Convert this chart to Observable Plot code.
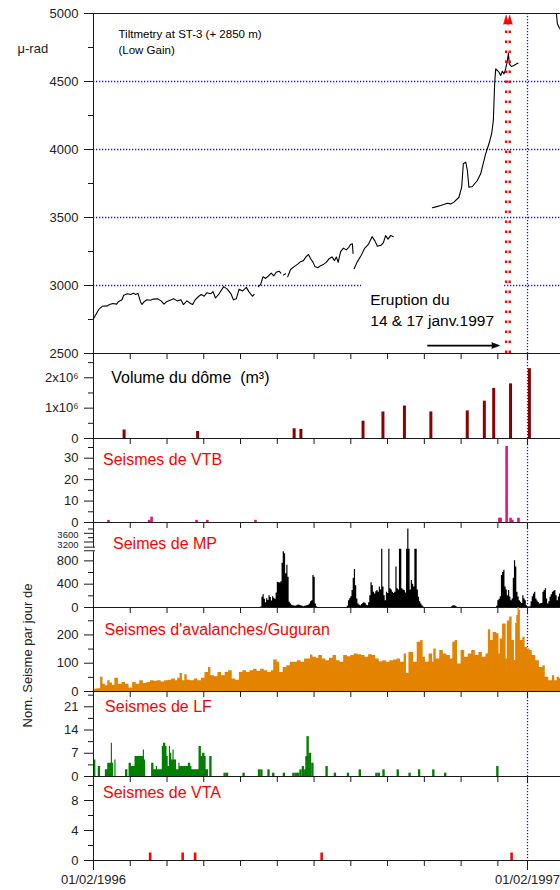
<!DOCTYPE html>
<html>
<head>
<meta charset="utf-8">
<script src="https://cdn.jsdelivr.net/npm/d3@7"></script>
<script src="https://cdn.jsdelivr.net/npm/@observablehq/plot@0.6"></script>
<style>
  html, body { margin: 0; padding: 0; background: #fff; }
  #chart { position: relative; width: 560px; height: 890px; overflow: hidden; background: #fff; }
  #chart svg { position: absolute; left: 0; }
</style>
</head>
<body>
<div id="chart"></div>
<script>
// ---------- x axis (days since 01/02/1996) ----------
const X_MAX = 393.83;
const X_TICKS = [0, 31, 62, 93, 124, 155, 186, 217, 248, 279, 310, 341, 366];
const X_LABEL_DAYS = [0, 366];
const X_LABELS = ["01/02/1996", "01/02/1997"];
const JAN97 = 366;
const ERUPTION_DAYS = [348, 351];

// ---------- tiltmetry (day, µrad) ----------
const tiltSeg1 = [[0,2755],[4.4,2824],[7.4,2847],[11.9,2850],[13.4,2860],[16.5,2868],[19.5,2863],[21,2881],[24,2895],[25.5,2929],[28.5,2939],[31.5,2934],[33.6,2944],[35.4,2934],[37.5,2942],[39.6,2881],[40.9,2860],[42.7,2881],[45,2895],[48,2892],[50.5,2900],[54,2902],[57,2887],[59.5,2863],[61.6,2881],[64.6,2892],[67.6,2902],[70.7,2887],[73.7,2895],[75.8,2860],[78.8,2887],[81.8,2868],[83.6,2860],[85.7,2895],[88.8,2921],[90.9,2934],[93.3,2921],[95.7,2947],[98.7,2939],[100.8,2955],[102.9,2908],[105.9,2939],[109.8,2992],[112.8,2973],[115.9,2939],[118,2895],[120.4,2902],[122.8,2973],[125.8,2960],[128.9,2986],[131,2955],[134,2921],[135.5,2934]];
const tiltSeg2 = [[139,2992],[140.9,3007],[143,3065],[145.1,3052],[147.5,3070],[149.9,3091],[152,3070],[154.1,3097],[156.5,3105],[158,3091]];
const tiltSeg3 = [[160.2,3078],[162,3086]];
const tiltSeg4 = [[163.8,3065],[166.2,3118],[168,3131],[170.1,3144],[172.2,3157],[174.6,3175],[177,3183],[179.2,3210],[181.3,3228],[183.1,3197],[185.2,3170],[186.7,3139],[189.1,3131],[191.2,3144],[194.2,3157],[196.3,3170],[198.7,3197],[201.1,3210],[203.3,3183],[204.8,3210],[206.3,3170],[208.4,3249],[210.8,3275],[213.2,3262],[215.3,3281],[216.8,3302],[218.3,3307],[218.9,3236]];
const tiltSeg5 = [[219.8,3123],[222.2,3170],[225.8,3223],[228.8,3275],[231.8,3302],[234.9,3359],[237.3,3328],[239.4,3288],[242.4,3296],[244.5,3315],[246.3,3367],[248.4,3341],[250.5,3367],[252.9,3359]];
const tiltSeg6 = [[285.8,3571],[289.4,3580],[292.8,3588],[295.3,3595],[298.4,3605],[301.2,3600],[304,3613],[308.2,3649],[310.5,3723],[311.9,3895],[313.9,3907],[315.3,3846],[316.6,3723],[319.5,3728],[323.7,3772],[326.5,3821],[330.7,3968],[333.5,4042],[335.8,4116],[337.2,4213],[338.3,4483],[339.2,4593],[340.6,4581],[341.9,4568],[343.4,4544],[344.8,4576],[346.2,4556],[347.6,4593],[349,4654],[349.9,4708],[350.7,4630],[352.4,4610],[354.6,4618],[356.9,4630],[358,4635]];
const tiltSeg7 = [[389.5,5000],[390.4,4998],[391.2,4924],[392.6,4899],[394,4880]];
const TILT_MAJOR = [2500, 3000, 3500, 4000, 4500, 5000];
const TILT_MINOR = [2750, 3250, 3750, 4250, 4750];
const TILT_GRID = [3000, 3500, 4000, 4500];

// ---------- dome volume (day, ×10^6 m3) ----------
const volDays = [25.8, 87.8, 169.2, 174.9, 227.3, 244.1, 262.2, 284.5, 315.2, 329.6, 337.5, 351.7, 367.6];
const volVals = [0.28, 0.23, 0.32, 0.30, 0.57, 0.875, 1.07, 0.875, 0.91, 1.23, 1.65, 1.8, 2.3];

// ---------- VTB ----------
const vtbDays = [12.6, 46.9, 49, 86.9, 96, 136.6, 342.3, 343.3, 348.4, 351.7, 353.2, 358.4];
const vtbVals = [1, 1, 2.5, 1, 1, 1, 2, 2, 35.5, 2, 1, 2];

// ---------- MP (daily runs; 1000 = off-scale, drawn at the break) ----------
const mpStartA = 141;
const mpValsA = [10,175,220,140,80,150,120,200,170,110,185,160,140,250,435,425,420,440,760,957,920,580,725,520,90,60,40,30,25,20,30,40,45,35,25,20,15,20,25,30,40,60,100,115,550,520,60,15];
const mpStartB = 214;
const mpValsB = [20,115,150,185,290,500,650,375,145,60,40,30,50,70,85,70,40,30,80,200,423,375,260,230,270,290,260,350,300,1000,350,200,115,260,240,1000,320,300,260,240,260,695,320,300,1000,1000,320,300,290,250,1000,3800,1000,300,465,400,350,1000,1000,300,175,100,58,30,10];
const mpStartC = 302;
const mpValsC = [15, 28, 30, 20, 10];
const mpStartD = 340;
const mpValsD = [20,115,140,185,550,600,640,350,300,200,290,180,115,145,500,800,695,260,180,115,90,70,200,150,115,30,5,10,15,100,185,230,260,145,110,85,58,65,70,260,290,320,145,58,100,175,220,260,280,290,200,115,180,230,230];
const MP_LOWER_TICKS = [0, 400, 800];
const MP_UPPER_TICKS = [3200, 3600];
const MP_MINOR = [200, 600, 3400, 3800];
const MP_BREAK = 1000, MP_UPPER_START = 2870, MP_UPPER_RATIO = 0.373;

// ---------- avalanches / guguran (day, count) ----------
const avalSamples = [[0,8],[3,10],[6,50],[8,26],[10,20],[12,38],[14,30],[16,22],[18,47],[21,26],[24,32],[27,26],[30,12],[33,32],[36,26],[39,38],[42,28],[45,32],[48,38],[51,36],[54,38],[57,34],[60,38],[63,40],[66,44],[69,38],[71,47],[73,64],[75,38],[77,59],[79,40],[82,38],[85,44],[88,38],[91,47],[94,67],[97,85],[99,56],[102,52],[105,67],[108,56],[111,67],[114,73],[117,44],[120,40],[123,67],[126,73],[129,67],[132,73],[135,79],[138,71],[141,79],[144,73],[147,67],[150,73],[152,111],[155,103],[157,67],[160,85],[163,91],[166,103],[169,103],[172,109],[175,103],[178,115],[181,115],[183,129],[185,121],[188,118],[190,127],[193,115],[196,109],[199,118],[202,127],[205,109],[208,103],[211,127],[214,123],[217,127],[220,133],[223,130],[226,127],[229,121],[232,130],[235,127],[238,115],[241,105],[244,109],[247,103],[250,109],[253,111],[256,115],[259,103],[262,133],[264,64],[266,138],[270,103],[273,174],[276,180],[278,121],[280,103],[283,133],[286,103],[287,150],[289,115],[292,145],[295,133],[298,127],[301,115],[303,174],[305,180],[307,97],[310,145],[313,121],[316,133],[319,145],[322,127],[325,138],[328,121],[331,133],[333,218],[335,180],[337,209],[340,204],[342,133],[343,186],[345,239],[348,115],[349,249],[351,263],[353,180],[355,110],[356,240],[357,269],[358,300],[359,287],[360,180],[362,192],[364,156],[366,150],[368,145],[370,127],[373,109],[376,85],[379,91],[381,50],[384,38],[387,56],[389,38],[391,50],[393,45],[395,45]];

// ---------- LF ----------
const lfDense = [5,5,0,0,3,3,0,0,0,0,2,2,4,4,4,10,4,0,5,0, 0,0,0,0,0,0,0,2,2,0, 4,4,3,3,3,6,6,6,6,6, 6,6,8,5,0,0,0,0,0,4, 4,2,2,3,2,2,2,2,9,10, 10,9,6,3,9,7,5,8,5,5, 2,2,4,3,3,3,3,3,3,3, 4,4,3,2,2,2,2,2,2,9, 9,6,7,7,6,2,2,0,6,6, 0];
const lfSparseDays = [110,112,126,139,141,147,151,160,168,170,172,174,176,178,179,180,181,182,184,196,203,214,224,238,240,244,256,266,274,286,296,340];
const lfSparseVals = [1,1,1,2,2,2,1,1,1,1,1,2,3,2,6,12,6,7,4,3,1,1,2,1,1,2,2,1,2,2,1,3];

// ---------- VTA ----------
const vtaDays = [47.8, 75.2, 85.7, 192.4, 352.6];
const vtaVals = [1, 1, 1, 1, 1];

// ---------- styling ----------
const FONT = "'Liberation Sans', Arial, Helvetica, sans-serif";
const INK = "#1a1a1a";
const BLUE = "#1010ff";
const DOTS = "1.3,1.7";
const RED = "#ff0000";
const chart = document.getElementById("chart");

function mpDisp(v) {
  return v <= MP_BREAK ? v : Math.max(MP_BREAK, MP_BREAK + (v - MP_UPPER_START) * MP_UPPER_RATIO);
}
function dailyFromRuns(runs) {
  const out = [];
  for (let d = 0; d <= Math.ceil(X_MAX) + 1; d++) out.push({d, v: 0});
  for (const [start, vals] of runs) vals.forEach((v, i) => { if (start + i < out.length) out[start + i].v = v; });
  return out;
}

function yAxis(major, fmt, minor, size = 13) {
  return [
    Plot.ruleX([0], {stroke: INK}),
    Plot.axisY(major, {tickSize: 9, tickPadding: 6, tickFormat: fmt, fontSize: size, label: null, stroke: INK, fill: "#222"}),
    Plot.axisY(minor, {tickSize: 5, tickFormat: () => "", label: null, stroke: INK})
  ];
}
function xAxis(y0, ticks = X_TICKS) {
  return [
    Plot.axisX(ticks, {tickSize: 6, tickFormat: () => "", label: null, stroke: INK}),
    Plot.ruleY([y0], {stroke: INK, strokeWidth: 1.2})
  ];
}
function janLine() {
  return Plot.ruleX([JAN97], {stroke: BLUE, strokeDasharray: DOTS, strokeWidth: 1.3});
}
function title(text, dx, dy, fill = RED, size = 16) {
  return Plot.text([text], {text: d => d, frameAnchor: "top-left", dx, dy, textAnchor: "start", lineAnchor: "middle", fill, fontSize: size});
}

function panel({top, bottom, yDomain, marks, mt = 14, mb = 14}) {
  const h = bottom - top;
  const svg = Plot.plot({
    width: 560,
    height: h + mt + mb,
    marginLeft: 93, marginRight: 0, marginTop: mt, marginBottom: mb,
    x: {domain: [0, X_MAX], label: null},
    y: {domain: yDomain, label: null},
    style: `background:transparent;overflow:visible;font-family:${FONT};font-size:13px;color:${INK};`,
    marks
  });
  svg.style.position = "absolute";
  svg.style.top = (top - mt) + "px";
  svg.style.left = "0px";
  chart.appendChild(svg);
}

// ---------- panel 1: tiltmetry ----------
const tiltRows = [tiltSeg1, tiltSeg2, tiltSeg3, tiltSeg4, tiltSeg5, tiltSeg6, tiltSeg7]
  .flatMap((s, i) => s.map(([d, v]) => ({d, v, seg: i})));
const eruptionBox = [{x1: 226, x2: 345.5, y1: 2510, y2: 3035}];
const eruptionArrow = [{x1: 281.5, x2: 342.6, y: 2558}];

panel({
  top: 13, bottom: 353, yDomain: [2500, 5000],
  marks: [
    Plot.ruleY(TILT_GRID, {stroke: BLUE, strokeDasharray: DOTS, strokeWidth: 1.3}),
    janLine(),
    Plot.rect(eruptionBox, {x1: "x1", x2: "x2", y1: "y1", y2: "y2", fill: "white"}),
    ...yAxis(TILT_MAJOR, d => String(d), TILT_MINOR),
    ...xAxis(2500),
    Plot.ruleY([5000], {stroke: INK, strokeWidth: 1.2}),
    Plot.line(tiltRows, {x: "d", y: "v", z: "seg", stroke: "black", strokeWidth: 1.1, clip: true}),
    Plot.ruleX(ERUPTION_DAYS, {y1: 2500, y2: 4921, stroke: RED, strokeWidth: 2.4, strokeDasharray: "2.5,7.5"}),
    Plot.vector(ERUPTION_DAYS, {x: d => d, y: 4921, length: 9, shape: "spike", r: 2.6, anchor: "start", fill: RED, stroke: RED, strokeWidth: 0.6}),
    Plot.link(eruptionArrow, {x1: "x1", x2: d => d.x2 - 4, y1: "y", y2: "y", stroke: "black", strokeWidth: 1.6}),
    Plot.vector(eruptionArrow, {x: "x2", y: "y", rotate: 90, length: 8, shape: "spike", r: 3, anchor: "end", fill: "black", stroke: "black", strokeWidth: 0.5}),
    Plot.text(["Eruption du\n14 & 17 janv.1997"], {text: d => d, x: 233.4, y: 2831, textAnchor: "start", lineAnchor: "middle", lineHeight: 1.38, fontSize: 15.5, fill: "black"}),
    Plot.text(["Tiltmetry at ST-3 (+ 2850 m)\n(Low Gain)"], {text: d => d, frameAnchor: "top-left", dx: 25, dy: 27.7, textAnchor: "start", lineAnchor: "middle", lineHeight: 1.39, fontSize: 11.5, fill: "black"}),
    Plot.text(["μ-rad"], {text: d => d, frameAnchor: "top-left", dx: -76, dy: 35.7, textAnchor: "start", lineAnchor: "middle", fontSize: 13, fill: "#222"})
  ]
});

// ---------- panel 2: dome volume ----------
const volRows = volDays.map((d, i) => ({d, v: volVals[i]}));
panel({
  top: 353, bottom: 438, yDomain: [0, 2.8],
  marks: [
    janLine(),
    ...yAxis([0, 1, 2], v => v === 0 ? "0" : v + "x10⁶", [0.5, 1.5, 2.5]),
    ...xAxis(0),
    Plot.ruleX(volRows, {x: "d", y1: 0, y2: "v", stroke: "#8b0000", strokeWidth: 3}),
    title("Volume du dôme\u00a0\u00a0(m³)", 17.7, 24, "black", 16)
  ]
});

// ---------- panel 3: VTB ----------
const vtbRows = vtbDays.map((d, i) => ({d, v: vtbVals[i]}));
panel({
  top: 438, bottom: 522, yDomain: [0, 39.2],
  marks: [
    janLine(),
    ...yAxis([0, 10, 20, 30], d => String(d), [5, 15, 25, 35]),
    ...xAxis(0),
    Plot.ruleX(vtbRows, {x: "d", y1: 0, y2: "v", stroke: "#e0167e", strokeWidth: 2.6}),
    title("Seismes de VTB", 9.5, 21.5)
  ]
});

// ---------- panel 4: MP (broken axis) ----------
const mpRows = dailyFromRuns([[mpStartA, mpValsA], [mpStartB, mpValsB], [mpStartC, mpValsC], [mpStartD, mpValsD]])
  .map(r => ({d: r.d, v: mpDisp(r.v)}));
const mpUpperShift = [3, 2];   // small downward nudges so the cramped labels do not collide
panel({
  top: 522, bottom: 607, yDomain: [0, 1458],
  marks: [
    janLine(),
    Plot.areaY(mpRows, {x: "d", y: "v", curve: "step-after", fill: "black", clip: true}),
    Plot.ruleX([0], {stroke: INK}),
    Plot.axisY(MP_LOWER_TICKS, {tickSize: 9, tickPadding: 6, tickFormat: d => String(d), fontSize: 13, label: null, stroke: INK, fill: "#222"}),
    Plot.axisY(MP_UPPER_TICKS.map(mpDisp), {tickSize: 9, tickPadding: 6, tickFormat: () => "", label: null, stroke: INK}),
    Plot.text([MP_UPPER_TICKS[0]], {text: d => String(d), x: 0, y: mpDisp, dx: -15, dy: mpUpperShift[0], textAnchor: "end", lineAnchor: "middle", fontSize: 9.5, fill: "#222"}),
    Plot.text([MP_UPPER_TICKS[1]], {text: d => String(d), x: 0, y: mpDisp, dx: -15, dy: mpUpperShift[1], textAnchor: "end", lineAnchor: "middle", fontSize: 9.5, fill: "#222"}),
    Plot.axisY(MP_MINOR.map(mpDisp), {tickSize: 5, tickFormat: () => "", label: null, stroke: INK}),
    ...xAxis(0),
    Plot.ruleY([MP_BREAK], {x1: -7.6, x2: 1.7, stroke: "white", strokeWidth: 4}),
    Plot.ruleY([MP_BREAK], {x1: -7.6, x2: 1.7, dy: -2, stroke: "#444", strokeWidth: 1.2}),
    Plot.ruleY([MP_BREAK], {x1: -7.6, x2: 1.7, dy: 1.5, stroke: "#444", strokeWidth: 1.2}),
    title("Seimes de MP", 19.5, 21)
  ]
});

// ---------- panel 5: avalanches / guguran ----------
const avalRows = avalSamples.map(([d, v]) => ({d, v}));
panel({
  top: 607, bottom: 691, yDomain: [0, 297],
  marks: [
    janLine(),
    Plot.areaY(avalRows, {x: "d", y: "v", curve: "step-after", fill: "#e38300", clip: true}),
    ...yAxis([0, 100, 200], d => String(d), [50, 150, 250]),
    ...xAxis(0),
    title("Seismes d'avalanches/Guguran", 11, 22.5),
    Plot.text(["Nom. Seisme par jour de"], {text: d => d, frameAnchor: "top-left", dx: -66, dy: 48, rotate: -90, textAnchor: "middle", lineAnchor: "middle", fontSize: 13, fill: "#222"})
  ]
});

// ---------- panel 6: LF ----------
const lfRows = dailyFromRuns([[0, lfDense]]);
const lfSparse = lfSparseDays.map((d, i) => ({d, v: lfSparseVals[i]}));
panel({
  top: 691, bottom: 776, yDomain: [0, 25.6],
  marks: [
    janLine(),
    Plot.areaY(lfRows, {x: "d", y: "v", curve: "step-after", fill: "#008000"}),
    Plot.rectY(lfSparse, {x1: "d", x2: d => d.d + 2, y1: 0, y2: "v", fill: "#008000"}),
    ...yAxis([0, 7, 14, 21], d => String(d), [3.5, 10.5, 17.5, 24.5]),
    ...xAxis(0),
    title("Seismes de LF", 11.6, 15)
  ]
});

// ---------- panel 7: VTA ----------
const vtaRows = vtaDays.map((d, i) => ({d, v: vtaVals[i]}));
const labelOf = new Map(X_LABEL_DAYS.map((d, i) => [d, X_LABELS[i]]));
panel({
  top: 776, bottom: 860, yDomain: [0, 11.2], mb: 30,
  marks: [
    janLine(),
    ...yAxis([0, 4, 8], d => String(d), [2, 6, 10]),
    ...xAxis(0, X_TICKS.filter(d => !labelOf.has(d))),
    Plot.axisX(X_LABEL_DAYS, {tickSize: 10, tickPadding: 4, tickFormat: d => labelOf.get(d), fontSize: 13, label: null, stroke: INK, fill: "#222"}),
    Plot.ruleX(vtaRows, {x: "d", y1: 0, y2: "v", stroke: RED, strokeWidth: 2.6}),
    title("Seismes de VTA", 9.5, 16.5)
  ]
});
</script>
</body>
</html>
